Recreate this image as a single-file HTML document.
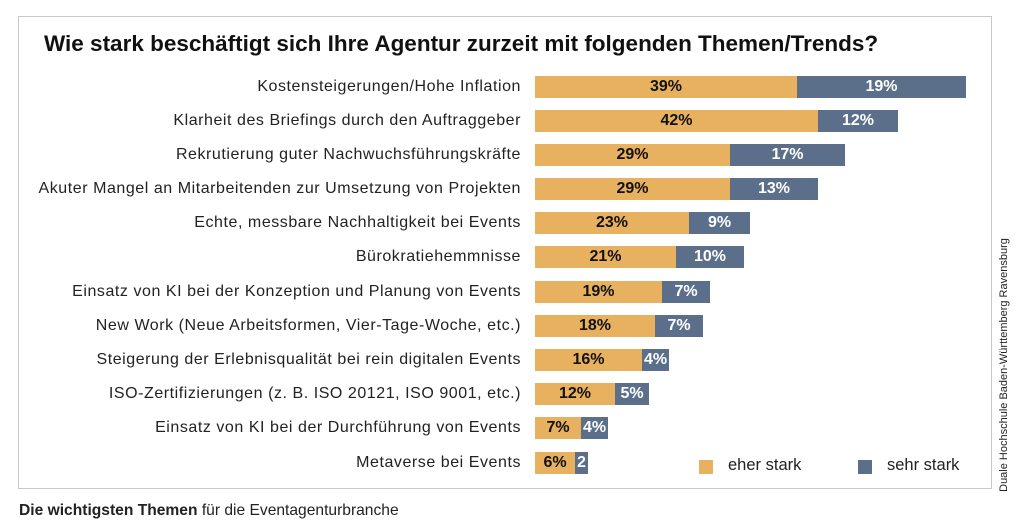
<!DOCTYPE html>
<html><head><meta charset="utf-8"><style>
body{margin:0;width:1024px;height:530px;background:#fff;font-family:"Liberation Sans",sans-serif;position:relative;overflow:hidden}
.box{position:absolute;left:18px;top:16px;width:974px;height:473px;border:1px solid #c8c8c8;box-sizing:border-box}
.t{position:absolute;left:44px;top:31px;font-size:22.5px;font-weight:bold;color:#111;white-space:nowrap}
.l{position:absolute;right:503px;font-size:16px;letter-spacing:0.55px;color:#222;white-space:nowrap;line-height:22px}
.b{position:absolute;height:22px;line-height:22px;text-align:center;font-size:16px;font-weight:bold}
.o{background:#E8B160;color:#111}
.s{background:#5B6F8A;color:#fff}
.lg{position:absolute;top:460px;width:14px;height:14px}
.lt{position:absolute;top:456px;font-size:16.5px;color:#222}
.v{position:absolute;left:1004px;top:365px;transform:translate(-50%,-50%) rotate(-90deg);font-size:11px;color:#222;white-space:nowrap}
.c{position:absolute;left:19px;top:502px;font-size:15.6px;color:#222}
</style></head><body>
<div class="box"></div>
<div class="t">Wie stark beschäftigt sich Ihre Agentur zurzeit mit folgenden Themen/Trends?</div>
<div class="l" style="top:76px">Kostensteigerungen/Hohe Inflation</div>
<div class="b o" style="top:76px;left:535px;width:262px">39%</div><div class="b s" style="top:76px;left:797px;width:169px">19%</div>
<div class="l" style="top:110px">Klarheit des Briefings durch den Auftraggeber</div>
<div class="b o" style="top:110px;left:535px;width:283px">42%</div><div class="b s" style="top:110px;left:818px;width:80px">12%</div>
<div class="l" style="top:144px">Rekrutierung guter Nachwuchsführungskräfte</div>
<div class="b o" style="top:144px;left:535px;width:195px">29%</div><div class="b s" style="top:144px;left:730px;width:115px">17%</div>
<div class="l" style="top:178px">Akuter Mangel an Mitarbeitenden zur Umsetzung von Projekten</div>
<div class="b o" style="top:178px;left:535px;width:195px">29%</div><div class="b s" style="top:178px;left:730px;width:88px">13%</div>
<div class="l" style="top:212px">Echte, messbare Nachhaltigkeit bei Events</div>
<div class="b o" style="top:212px;left:535px;width:154px">23%</div><div class="b s" style="top:212px;left:689px;width:61px">9%</div>
<div class="l" style="top:246px">Bürokratiehemmnisse</div>
<div class="b o" style="top:246px;left:535px;width:141px">21%</div><div class="b s" style="top:246px;left:676px;width:68px">10%</div>
<div class="l" style="top:281px">Einsatz von KI bei der Konzeption und Planung von Events</div>
<div class="b o" style="top:281px;left:535px;width:127px">19%</div><div class="b s" style="top:281px;left:662px;width:48px">7%</div>
<div class="l" style="top:315px">New Work (Neue Arbeitsformen, Vier-Tage-Woche, etc.)</div>
<div class="b o" style="top:315px;left:535px;width:120px">18%</div><div class="b s" style="top:315px;left:655px;width:48px">7%</div>
<div class="l" style="top:349px">Steigerung der Erlebnisqualität bei rein digitalen Events</div>
<div class="b o" style="top:349px;left:535px;width:107px">16%</div><div class="b s" style="top:349px;left:642px;width:27px">4%</div>
<div class="l" style="top:383px">ISO-Zertifizierungen (z. B. ISO 20121, ISO 9001, etc.)</div>
<div class="b o" style="top:383px;left:535px;width:80px">12%</div><div class="b s" style="top:383px;left:615px;width:34px">5%</div>
<div class="l" style="top:417px">Einsatz von KI bei der Durchführung von Events</div>
<div class="b o" style="top:417px;left:535px;width:46px">7%</div><div class="b s" style="top:417px;left:581px;width:27px">4%</div>
<div class="l" style="top:452px">Metaverse bei Events</div>
<div class="b o" style="top:452px;left:535px;width:40px">6%</div><div class="b s" style="top:452px;left:575px;width:13px">2</div>
<div class="lg o" style="left:699px"></div><div class="lt" style="left:728px">eher stark</div>
<div class="lg s" style="left:858px"></div><div class="lt" style="left:887px">sehr stark</div>
<div class="v">Duale Hochschule Baden-Württemberg Ravensburg</div>
<div class="c"><b>Die wichtigsten Themen</b> für die Eventagenturbranche</div>
</body></html>
